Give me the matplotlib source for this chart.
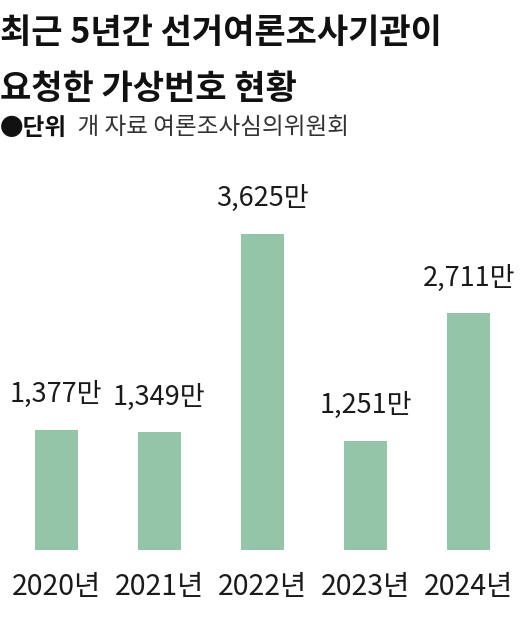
import matplotlib
matplotlib.use("Agg")
import matplotlib.pyplot as plt

plt.rcParams['font.family'] = ['Noto Sans CJK KR', 'DejaVu Sans']

years = ["2020년", "2021년", "2022년", "2023년", "2024년"]
values = [1377, 1349, 3625, 1251, 2711]  # 단위: 만 개
labels = ["1,377만", "1,349만", "3,625만", "1,251만", "2,711만"]

W, H = 530, 640
fig = plt.figure(figsize=(W / 100, H / 100), dpi=100)

# axes placed in pixel terms: baseline at y=550, top at y=150
ax = fig.add_axes([0, 1 - 550 / H, 1, 400 / H])
px_per_unit = 0.0873
ax.set_ylim(0, 400 / px_per_unit)
step = 103.25
ax.set_xlim(-56 / step, (W - 56) / step)

x = range(len(values))
bars = ax.bar(x, values, width=43 / step, color="#94c5a8")

for b, lab in zip(bars, labels):
    ax.annotate(lab, (b.get_x() + b.get_width() / 2, b.get_height()),
                xytext=(0, 35 * 0.72), textcoords="offset points",
                ha="center", va="center", fontsize=19.5, color="#1a1a1a")

ax.set_xticks(list(x))
ax.set_xticklabels(years, fontsize=20.5, color="#1a1a1a")
ax.tick_params(axis="x", length=0, pad=16)
ax.set_yticks([])
for s in ax.spines.values():
    s.set_visible(False)

fig.text(0.0, 1 - 33 / H, "최근 5년간 선거여론조사기관이", fontsize=24.5,
         fontweight="heavy", va="center", ha="left", color="#111111")
fig.text(0.0, 1 - 88 / H, "요청한 가상번호 현황", fontsize=24.5,
         fontweight="heavy", va="center", ha="left", color="#111111")
t = fig.text(0.0, 1 - 128 / H, "●단위", fontsize=17, fontweight="bold",
             va="center", ha="left", color="#111111")
ax.annotate("  개 자료 여론조사심의위원회", xy=(1, 0.5), xycoords=t,
            va="center", ha="left", fontsize=17, color="#333333",
            fontweight="light", annotation_clip=False)

fig.savefig("out.png", dpi=100)
